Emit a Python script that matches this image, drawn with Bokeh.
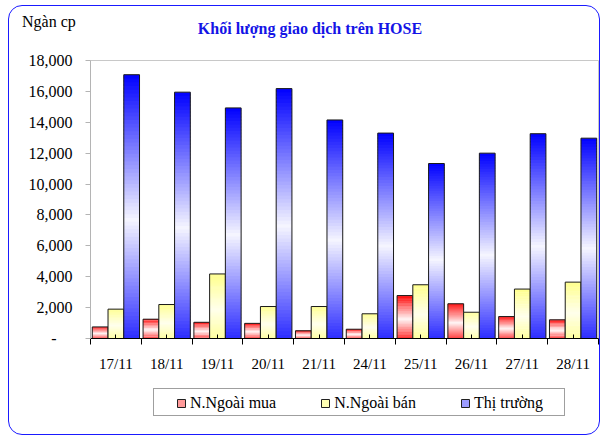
from bokeh.plotting import figure
from bokeh.layouts import column
from bokeh.models import (ColumnDataSource, FixedTicker, NumeralTickFormatter,
                          Legend, LegendItem, Range1d, Div)
from bokeh.embed import file_html
from bokeh.resources import INLINE

# ---------------- data ----------------
categories = ["17/11", "18/11", "19/11", "20/11", "21/11",
              "24/11", "25/11", "26/11", "27/11", "28/11"]
foreign_buy = [750, 1250, 1050, 980, 500, 600, 2780, 2250, 1420, 1210]
foreign_sell = [1900, 2200, 4180, 2070, 2070, 1600, 3480, 1700, 3200, 3650]
market = [17080, 15950, 14930, 16180, 14150, 13300, 11330, 12000, 13260, 12970]
series_names = ["N.Ngoài mua", "N.Ngoài bán", "Thị trường"]
y_ticks = [0, 2000, 4000, 6000, 8000, 10000, 12000, 14000, 16000, 18000]
title_text = "Khối lượng giao dịch trên HOSE"
unit_text = "Ngàn cp"

# ---------------- style ----------------
FONT = "Liberation Serif"
W = 592
base_colors = [(255, 0, 0), (255, 255, 140), (0, 0, 255)]
center_colors = [(255, 245, 245), (255, 255, 235), (245, 245, 255)]
legend_fill = ["#ff9a9a", "#ffffb4", "#9c9cff"]
offsets = [-0.31, 0.0, 0.31]
bar_w = 0.31
NSEG = 70
WHITE_POS = 0.45

# ---------------- header (title + unit) ----------------
header_html = (
    '<div style="position:relative;width:%dpx;height:45px;font-family:\'Liberation Serif\',serif;">'
    '<span style="position:absolute;left:14px;top:9px;font-size:16px;line-height:16px;'
    'color:black;white-space:nowrap;">%s</span>'
    '<span style="position:absolute;left:0px;width:604px;top:16px;text-align:center;'
    'font-size:16px;line-height:16px;font-weight:bold;color:#1414e6;white-space:nowrap;">%s</span>'
    '</div>' % (W, unit_text, title_text))
header = Div(text=header_html, width=W, height=45, margin=0)

# ---------------- main chart ----------------
p = figure(width=W, height=325, output_backend="svg", toolbar_location=None,
           x_range=Range1d(0, len(categories)), y_range=Range1d(0, 18000),
           min_border_left=82, min_border_right=2, min_border_top=10,
           min_border_bottom=37)
p.outline_line_color = "#c8c8c8"
p.outline_line_width = 1
p.xgrid.visible = False
p.ygrid.visible = False
p.background_fill_color = "white"
p.border_fill_color = None


def mix(a, b, w):
    return "#%02x%02x%02x" % tuple(int(round(a[i] + (b[i] - a[i]) * w)) for i in range(3))


all_series = [foreign_buy, foreign_sell, market]
for s, vals in enumerate(all_series):
    L, R, B, T, C = [], [], [], [], []
    for i, v in enumerate(vals):
        cx = i + 0.5 + offsets[s]
        for k in range(NSEG):
            t = (k + 0.5) / NSEG
            w = abs(t - WHITE_POS) / max(WHITE_POS, 1 - WHITE_POS)
            L.append(cx - bar_w / 2)
            R.append(cx + bar_w / 2)
            B.append(v * k / NSEG)
            T.append(min(v, v * (k + 1.6) / NSEG))
            C.append(mix(center_colors[s], base_colors[s], w))
    src = ColumnDataSource(dict(left=L, right=R, bottom=B, top=T, color=C))
    p.quad(left="left", right="right", bottom="bottom", top="top", source=src,
           fill_color="color", line_color=None)
    xs = [i + 0.5 + offsets[s] for i in range(len(vals))]
    osrc = ColumnDataSource(dict(left=[x - bar_w / 2 for x in xs],
                                 right=[x + bar_w / 2 for x in xs],
                                 bottom=[0] * len(vals), top=vals))
    p.quad(left="left", right="right", bottom="bottom", top="top", source=osrc,
           fill_color=None, line_color="#1a1a1a", line_width=1)

yax = p.yaxis[0]
yax.ticker = FixedTicker(ticks=y_ticks, minor_ticks=[])
yax.formatter = NumeralTickFormatter(format="0,0")
yax.major_label_overrides = {0: "-\u00a0\u00a0\u00a0\u00a0"}
yax.axis_line_color = "#b4b4b4"
yax.major_tick_line_color = "#b4b4b4"
yax.major_tick_out = 5
yax.major_tick_in = 0
yax.minor_tick_line_color = None
yax.major_label_standoff = 13
yax.major_label_text_font = FONT
yax.major_label_text_font_size = "16px"
yax.major_label_text_color = "black"

xax = p.xaxis[0]
centers = [i + 0.5 for i in range(len(categories))]
xax.ticker = FixedTicker(ticks=centers, minor_ticks=list(range(len(categories) + 1)))
xax.major_label_overrides = {c: lab for c, lab in zip(centers, categories)}
xax.axis_line_color = "black"
xax.major_tick_line_color = "black"
xax.major_tick_in = 4
xax.major_tick_out = 0
xax.minor_tick_line_color = "black"
xax.minor_tick_out = 6
xax.minor_tick_in = 0
xax.major_label_standoff = 11
xax.major_label_text_font = FONT
xax.major_label_text_font_size = "15px"
xax.major_label_text_color = "black"

# ---------------- footer with legend ----------------
FH = 60
footer = figure(width=W, height=FH, output_backend="svg", toolbar_location=None,
                x_range=Range1d(0, 100), y_range=Range1d(0, FH),
                min_border_left=0, min_border_right=0,
                min_border_top=0, min_border_bottom=0)
footer.xaxis.visible = False
footer.yaxis.visible = False
footer.xgrid.visible = False
footer.ygrid.visible = False
footer.outline_line_color = None
footer.background_fill_color = None
footer.border_fill_color = None

hidden = dict(left=[-20], right=[-10], bottom=[0], top=[1])
frame_box = footer.quad(fill_alpha=0, line_alpha=0, **hidden)
box_legend = Legend(items=[LegendItem(label=" ", renderers=[frame_box])],
                    location=(63, 19), orientation="horizontal",
                    padding=0, margin=0, glyph_width=1, glyph_height=1,
                    label_standoff=0, label_width=409, label_height=26,
                    border_line_color="#404040", border_line_width=1,
                    background_fill_color="white", background_fill_alpha=1)
footer.add_layout(box_legend)

items = []
for s, name in enumerate(series_names):
    r = footer.quad(fill_color=legend_fill[s], line_color="#202020", line_width=1,
                    **hidden)
    items.append(LegendItem(label=name, renderers=[r]))
legend = Legend(items=items, location=(86, 23), orientation="horizontal",
                padding=0, margin=0, spacing=44, glyph_width=10, glyph_height=10,
                label_standoff=4, label_text_font=FONT, label_text_font_size="16px",
                label_text_color="black", border_line_color=None,
                background_fill_alpha=0)
footer.add_layout(legend)

page = column(header, p, footer, spacing=0, margin=(5, 5, 3, 8))
page.styles = {"outline": "1.5px solid #1a1aff", "outline-offset": "-1.5px",
               "border-radius": "14px"}

with open("out.html", "w", encoding="utf-8") as f:
    f.write(file_html(page, INLINE))
